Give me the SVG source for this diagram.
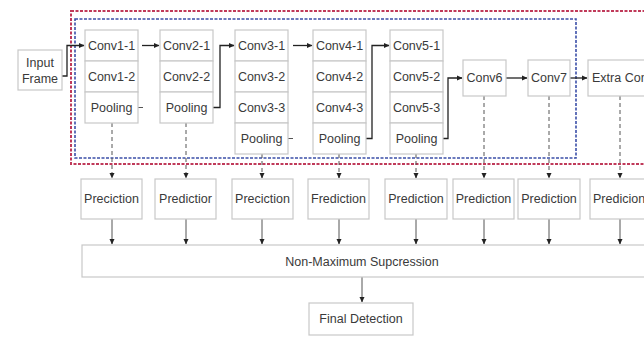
<svg xmlns="http://www.w3.org/2000/svg" width="644" height="337" viewBox="0 0 644 337">
<defs>
<marker id="ah" markerWidth="6" markerHeight="6" refX="5" refY="3" orient="auto" markerUnits="userSpaceOnUse">
<path d="M0,0.5 L5.5,3 L0,5.5 Z" fill="#222"/>
</marker>
<style>
.box{fill:#fff;stroke:#c8c8c8;stroke-width:1.2}
.t{font-family:"Liberation Sans Narrow","Liberation Sans",Arial,sans-serif;font-size:12.5px;fill:#3a3a3a;text-anchor:middle;dominant-baseline:central}
.ln{fill:none;stroke:#222;stroke-width:1.3}
.dl{fill:none;stroke:#555;stroke-width:1;stroke-dasharray:4,3}
.sl{fill:none;stroke:#555;stroke-width:1}
.red{fill:none;stroke:#c03a5a;stroke-width:2;stroke-dasharray:3,1.5}
.blue{fill:none;stroke:#3b4fa8;stroke-width:1.6;stroke-dasharray:3,1.5}
</style>
</defs>
<rect width="644" height="337" fill="#fff"/>
<rect class="red" x="71" y="11" width="590" height="153"/>
<rect class="blue" x="75" y="19" width="501" height="139"/>

<g id="connectors">
<polyline class="ln" points="62,76 67,76 67,45.5 84,45.5" marker-end="url(#ah)"/>
<line class="ln" x1="142" y1="45.5" x2="159" y2="45.5" marker-end="url(#ah)"/>
<line class="sl" x1="138" y1="107.5" x2="143" y2="107.5"/>
<polyline class="ln" points="213,107.5 220,107.5 220,45.5 234,45.5" marker-end="url(#ah)"/>
<line class="ln" x1="293" y1="45.5" x2="312" y2="45.5" marker-end="url(#ah)"/>
<line class="sl" x1="288" y1="138.5" x2="293" y2="138.5"/>
<polyline class="ln" points="366,138.5 372,138.5 372,45.5 389,45.5" marker-end="url(#ah)"/>
<polyline class="ln" points="443,138.5 448,138.5 448,78 462,78" marker-end="url(#ah)"/>
<line class="ln" x1="506" y1="78" x2="527" y2="78" marker-end="url(#ah)"/>
<line class="ln" x1="570" y1="78" x2="587" y2="78" marker-end="url(#ah)"/>

<line class="dl" x1="112" y1="123" x2="112" y2="178" marker-end="url(#ah)"/>
<line class="dl" x1="186" y1="123" x2="186" y2="178" marker-end="url(#ah)"/>
<line class="dl" x1="262" y1="154" x2="262" y2="178" marker-end="url(#ah)"/>
<line class="dl" x1="339" y1="154" x2="339" y2="178" marker-end="url(#ah)"/>
<line class="dl" x1="416" y1="154" x2="416" y2="178" marker-end="url(#ah)"/>
<line class="dl" x1="484" y1="96" x2="484" y2="178" marker-end="url(#ah)"/>
<line class="dl" x1="549" y1="96" x2="549" y2="178" marker-end="url(#ah)"/>
<line class="dl" x1="620" y1="96" x2="620" y2="178" marker-end="url(#ah)"/>

<line class="sl" x1="112" y1="219" x2="112" y2="244" marker-end="url(#ah)"/>
<line class="sl" x1="186" y1="219" x2="186" y2="244" marker-end="url(#ah)"/>
<line class="sl" x1="262" y1="219" x2="262" y2="244" marker-end="url(#ah)"/>
<line class="sl" x1="339" y1="219" x2="339" y2="244" marker-end="url(#ah)"/>
<line class="sl" x1="416" y1="219" x2="416" y2="244" marker-end="url(#ah)"/>
<line class="sl" x1="484" y1="219" x2="484" y2="244" marker-end="url(#ah)"/>
<line class="sl" x1="549" y1="219" x2="549" y2="244" marker-end="url(#ah)"/>
<line class="sl" x1="620" y1="219" x2="620" y2="244" marker-end="url(#ah)"/>
<line class="sl" x1="362" y1="277" x2="362" y2="302" marker-end="url(#ah)"/>
</g>

<g id="input"><rect class="box" x="18" y="50" width="44" height="40"/><text class="t" x="40" y="63">Input</text><text class="t" x="40" y="79">Frame</text></g>

<g id="conv1">
<rect class="box" x="85" y="30" width="53" height="31"/><text class="t" x="111.5" y="45.5">Conv1-1</text>
<rect class="box" x="85" y="61" width="53" height="31"/><text class="t" x="111.5" y="76.5">Conv1-2</text>
<rect class="box" x="85" y="92" width="53" height="31"/><text class="t" x="111.5" y="107.5">Pooling</text>
</g>
<g id="conv2">
<rect class="box" x="160" y="30" width="53" height="31"/><text class="t" x="186.5" y="45.5">Conv2-1</text>
<rect class="box" x="160" y="61" width="53" height="31"/><text class="t" x="186.5" y="76.5">Conv2-2</text>
<rect class="box" x="160" y="92" width="53" height="31"/><text class="t" x="186.5" y="107.5">Pooling</text>
</g>
<g id="conv3">
<rect class="box" x="235" y="30" width="53" height="31"/><text class="t" x="261.5" y="45.5">Conv3-1</text>
<rect class="box" x="235" y="61" width="53" height="31"/><text class="t" x="261.5" y="76.5">Conv3-2</text>
<rect class="box" x="235" y="92" width="53" height="31"/><text class="t" x="261.5" y="107.5">Conv3-3</text>
<rect class="box" x="235" y="123" width="53" height="31"/><text class="t" x="261.5" y="138.5">Pooling</text>
</g>
<g id="conv4">
<rect class="box" x="313" y="30" width="53" height="31"/><text class="t" x="339.5" y="45.5">Conv4-1</text>
<rect class="box" x="313" y="61" width="53" height="31"/><text class="t" x="339.5" y="76.5">Conv4-2</text>
<rect class="box" x="313" y="92" width="53" height="31"/><text class="t" x="339.5" y="107.5">Conv4-3</text>
<rect class="box" x="313" y="123" width="53" height="31"/><text class="t" x="339.5" y="138.5">Pooling</text>
</g>
<g id="conv5">
<rect class="box" x="390" y="30" width="53" height="31"/><text class="t" x="416.5" y="45.5">Conv5-1</text>
<rect class="box" x="390" y="61" width="53" height="31"/><text class="t" x="416.5" y="76.5">Conv5-2</text>
<rect class="box" x="390" y="92" width="53" height="31"/><text class="t" x="416.5" y="107.5">Conv5-3</text>
<rect class="box" x="390" y="123" width="53" height="31"/><text class="t" x="416.5" y="138.5">Pooling</text>
</g>
<g id="conv6"><rect class="box" x="463" y="60" width="43" height="36"/><text class="t" x="484.5" y="78">Conv6</text></g>
<g id="conv7"><rect class="box" x="528" y="60" width="42" height="36"/><text class="t" x="549" y="78">Conv7</text></g>
<g id="extra"><rect class="box" x="588" y="60" width="70" height="36"/><text class="t" x="592" y="78" style="text-anchor:start">Extra Con</text></g>

<g id="pred1"><rect class="box" x="81" y="179" width="61" height="40"/><text class="t" x="111.5" y="199">Preciction</text></g>
<g id="pred2"><rect class="box" x="155" y="179" width="61" height="40"/><text class="t" x="185.5" y="199">Predictior</text></g>
<g id="pred3"><rect class="box" x="232" y="179" width="61" height="40"/><text class="t" x="262.5" y="199">Preciction</text></g>
<g id="pred4"><rect class="box" x="308" y="179" width="61" height="40"/><text class="t" x="338.5" y="199">Frediction</text></g>
<g id="pred5"><rect class="box" x="385" y="179" width="62" height="40"/><text class="t" x="416" y="199">Prediction</text></g>
<g id="pred6"><rect class="box" x="453" y="179" width="61" height="40"/><text class="t" x="483.5" y="199">Prediction</text></g>
<g id="pred7"><rect class="box" x="518" y="179" width="62" height="40"/><text class="t" x="549" y="199">Prediction</text></g>
<g id="pred8"><rect class="box" x="590" y="179" width="70" height="40"/><text class="t" x="593" y="199" style="text-anchor:start">Predicion</text></g>

<g id="nms"><rect class="box" x="82" y="245" width="570" height="32"/><text class="t" x="362" y="262">Non-Maximum Supcression</text></g>
<g id="final"><rect class="box" x="309" y="303" width="104" height="32"/><text class="t" x="361" y="319">Final Detection</text></g>
</svg>
